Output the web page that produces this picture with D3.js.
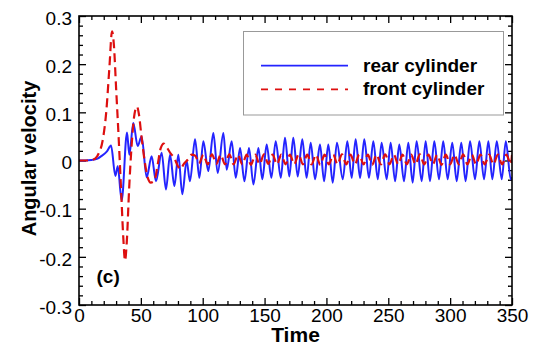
<!DOCTYPE html>
<html><head><meta charset="utf-8">
<script src="https://cdn.jsdelivr.net/npm/d3@7"></script>
<style>body{margin:0;background:#fff}svg{display:block}</style>
</head><body>
<script>
// ---- data ----
const blueTime = [0,5,10,15,18,22.6,25.9,29.4,31.3,34.5,38.8,40.7,43.9,47.4,50.6,54.7,58.7,62.2,66.8,70.3,73.6,77.1,80.3,83.5,87,89.7,93.8,97.3,100.5,104.5,108.6,112.1,116.7,119.4,123.4,126.7,130.2,133.7,137.4,141,145,148.2,151.7,155.5,159,163.1,166.5,170,173.2,176.8,180.5,184,187.3,190.8,194.8,198.1,201.5,205.1,208.5,213.2,216.9,220.4,223.6,227.2,230.6,234.4,237.9,241.5,244.6,248.7,251.9,255.5,258.9,262.7,266.2,269.7,272.9,277,280.2,283.7,287.2,291,294.4,298,301.7,305.3,309,312.5,316.1,320.1,323.6,327.4,330.9,334.1,337.7,341.7,345,349,350];
const blueValue = [0,0,0.001,0.004,0.009,0.019,0.031,-0.032,-0.012,-0.083,0.058,0.012,0.078,0.03,0.05,-0.035,0.009,-0.043,0.016,-0.06,0.012,-0.053,0.012,-0.07,-0.001,-0.043,0.044,-0.036,0.04,-0.022,0.057,-0.026,0.057,-0.019,0.04,-0.036,0.026,-0.043,0.026,-0.05,0.026,-0.039,0.033,-0.036,0.04,-0.036,0.047,-0.033,0.047,-0.033,0.044,-0.036,0.037,-0.039,0.033,-0.043,0.033,-0.046,0.037,-0.039,0.04,-0.036,0.044,-0.036,0.044,-0.036,0.04,-0.039,0.037,-0.039,0.037,-0.043,0.033,-0.043,0.037,-0.046,0.04,-0.043,0.04,-0.043,0.04,-0.039,0.04,-0.039,0.037,-0.043,0.037,-0.043,0.04,-0.039,0.04,-0.039,0.04,-0.039,0.04,-0.039,0.04,-0.039,-0.035];
const redTime = [0,8,13,16,19,22,24.5,26.7,28.2,30,32,34,35.8,37.2,38.6,40.5,42.5,44.5,46.8,48.5,50.5,53,55.5,58,61,63.5,66,68.5,71,74,77,80,82,84.5,88,91,94,97,100.5,104,107.5,111,114.5,118,121.5,125,128.5,132,135.5,139,142.5,146,149.5,153,156.5,160,163.5,167,170.5,174,177.5,181,184.5,188,191.5,195,198.5,202,205.5,209,212.5,216,219.5,223,226.5,230,233.5,237,240.5,244,247.5,251,254.5,258,261.5,265,268.5,272,275.5,279,282.5,286,289.5,293,296.5,300,303.5,307,310.5,314,317.5,321,324.5,328,331.5,335,338.5,342,345.5,349,350];
const redValue = [0,0,0.004,0.015,0.04,0.1,0.19,0.268,0.24,0.15,0.05,-0.06,-0.16,-0.208,-0.17,-0.06,0.03,0.09,0.112,0.095,0.05,0,-0.035,-0.046,-0.042,-0.01,0.025,0.035,0.027,0.015,0.005,-0.012,-0.018,-0.008,0.002,0.012,0.01,-0.006,0.012,-0.008,0.013,-0.007,0.012,-0.008,0.013,-0.008,0.012,-0.008,0.012,-0.009,0.012,-0.008,0.013,-0.007,0.012,-0.008,0.012,-0.008,0.012,-0.008,0.013,-0.008,0.012,-0.008,0.012,-0.009,0.012,-0.008,0.012,-0.008,0.013,-0.008,0.012,-0.008,0.012,-0.008,0.012,-0.009,0.012,-0.008,0.013,-0.008,0.012,-0.008,0.012,-0.008,0.012,-0.008,0.013,-0.008,0.012,-0.008,0.012,-0.009,0.012,-0.008,0.012,-0.008,0.013,-0.008,0.012,-0.008,0.012,-0.008,0.012,-0.008,0.012,-0.008,0.012,-0.008,0.012,0.005];
const xTicks = [0,50,100,150,200,250,300,350];
const xTickLabels = ["0","50","100","150","200","250","300","350"];
const yTicks = [-0.3,-0.2,-0.1,0,0.1,0.2,0.3];
const yTickLabels = ["-0.3","-0.2","-0.1","0","0.1","0.2","0.3"];
const seriesNames = ["rear cylinder","front cylinder"];

// ---- chart ----
const W = 535, H = 347;
const svg = d3.select("body").append("svg").attr("width", W).attr("height", H);
const x = d3.scaleLinear().domain([0,350]).range([79,512]);
const y = d3.scaleLinear().domain([-0.3,0.3]).range([305,16]);
const font = "'Liberation Sans', Arial, Helvetica, sans-serif";

const xMinor = d3.range(0,351,10).filter(v => v % 50 !== 0);
const yMinor = d3.range(-30,31,2).map(v => v/100).filter(v => Math.abs(Math.round(v*100)) % 10 !== 0);

function styleAxis(g){
  g.select(".domain").remove();
  g.selectAll("line").attr("stroke","#000").attr("stroke-width",1.3);
  g.selectAll("text").attr("font-family",font).attr("font-size",19).attr("fill","#000");
}
// major axes
svg.append("g").attr("transform",`translate(0,${y(-0.3)})`)
  .call(d3.axisBottom(x).tickValues(xTicks).tickFormat((d,i)=>xTickLabels[i]).tickSize(-7).tickPadding(4))
  .call(styleAxis);
svg.append("g").attr("transform",`translate(0,${y(0.3)})`)
  .call(d3.axisTop(x).tickValues(xTicks).tickFormat("").tickSize(-7)).call(styleAxis);
svg.append("g").attr("transform",`translate(${x(0)},0)`)
  .call(d3.axisLeft(y).tickValues(yTicks).tickFormat((d,i)=>yTickLabels[i]).tickSize(-7).tickPadding(7))
  .call(styleAxis).selectAll("text").attr("dy","0.43em");
svg.append("g").attr("transform",`translate(${x(350)},0)`)
  .call(d3.axisRight(y).tickValues(yTicks).tickFormat("").tickSize(-7)).call(styleAxis);
// minor ticks
svg.append("g").attr("transform",`translate(0,${y(-0.3)})`)
  .call(d3.axisBottom(x).tickValues(xMinor).tickFormat("").tickSize(-4)).call(styleAxis);
svg.append("g").attr("transform",`translate(0,${y(0.3)})`)
  .call(d3.axisTop(x).tickValues(xMinor).tickFormat("").tickSize(-4)).call(styleAxis);
svg.append("g").attr("transform",`translate(${x(0)},0)`)
  .call(d3.axisLeft(y).tickValues(yMinor).tickFormat("").tickSize(-4)).call(styleAxis);
svg.append("g").attr("transform",`translate(${x(350)},0)`)
  .call(d3.axisRight(y).tickValues(yMinor).tickFormat("").tickSize(-4)).call(styleAxis);

// clip
svg.append("clipPath").attr("id","clip").append("rect")
  .attr("x",x(0)).attr("y",y(0.3)).attr("width",x(350)-x(0)).attr("height",y(-0.3)-y(0.3));

const line = d3.line().x(d=>x(d[0])).y(d=>y(d[1])).curve(d3.curveMonotoneX);
const blue = blueTime.map((t,i)=>[t,blueValue[i]]);
const red = redTime.map((t,i)=>[t,redValue[i]]);
const BLUE = "#2424ff", RED = "#dd0f0f";

svg.append("path").datum(blue).attr("clip-path","url(#clip)").attr("d",line)
  .attr("fill","none").attr("stroke",BLUE).attr("stroke-width",2);
svg.append("path").datum(red).attr("clip-path","url(#clip)").attr("d",line)
  .attr("fill","none").attr("stroke",RED).attr("stroke-width",2.2).attr("stroke-dasharray","9,5");

// frame
svg.append("rect").attr("x",x(0)).attr("y",y(0.3)).attr("width",x(350)-x(0)).attr("height",y(-0.3)-y(0.3))
  .attr("fill","none").attr("stroke","#000").attr("stroke-width",1.6);

// legend
const lg = svg.append("g");
lg.append("rect").attr("x",243.5).attr("y",31.5).attr("width",260).attr("height",83.5)
  .attr("fill","#fff").attr("stroke","#999").attr("stroke-width",1);
lg.append("line").attr("x1",261).attr("x2",348).attr("y1",65.7).attr("y2",65.7)
  .attr("stroke",BLUE).attr("stroke-width",1.8);
lg.append("line").attr("x1",261).attr("x2",348).attr("y1",89.3).attr("y2",89.3)
  .attr("stroke",RED).attr("stroke-width",1.8).attr("stroke-dasharray","7,7");
lg.append("text").attr("x",363).attr("y",72).text(seriesNames[0])
  .attr("font-family",font).attr("font-weight","bold").attr("font-size",19);
lg.append("text").attr("x",363).attr("y",95).text(seriesNames[1])
  .attr("font-family",font).attr("font-weight","bold").attr("font-size",19);

// labels
svg.append("text").attr("x",(x(0)+x(350))/2).attr("y",342).attr("text-anchor","middle")
  .attr("font-family",font).attr("font-weight","bold").attr("font-size",21).text("Time");
svg.append("text").attr("transform","translate(36,158.5) rotate(-90)").attr("text-anchor","middle")
  .attr("font-family",font).attr("font-weight","bold").attr("font-size",20).text("Angular velocity");
svg.append("text").attr("x",96.5).attr("y",283)
  .attr("font-family",font).attr("font-weight","bold").attr("font-size",19).text("(c)");
</script>
</body></html>
